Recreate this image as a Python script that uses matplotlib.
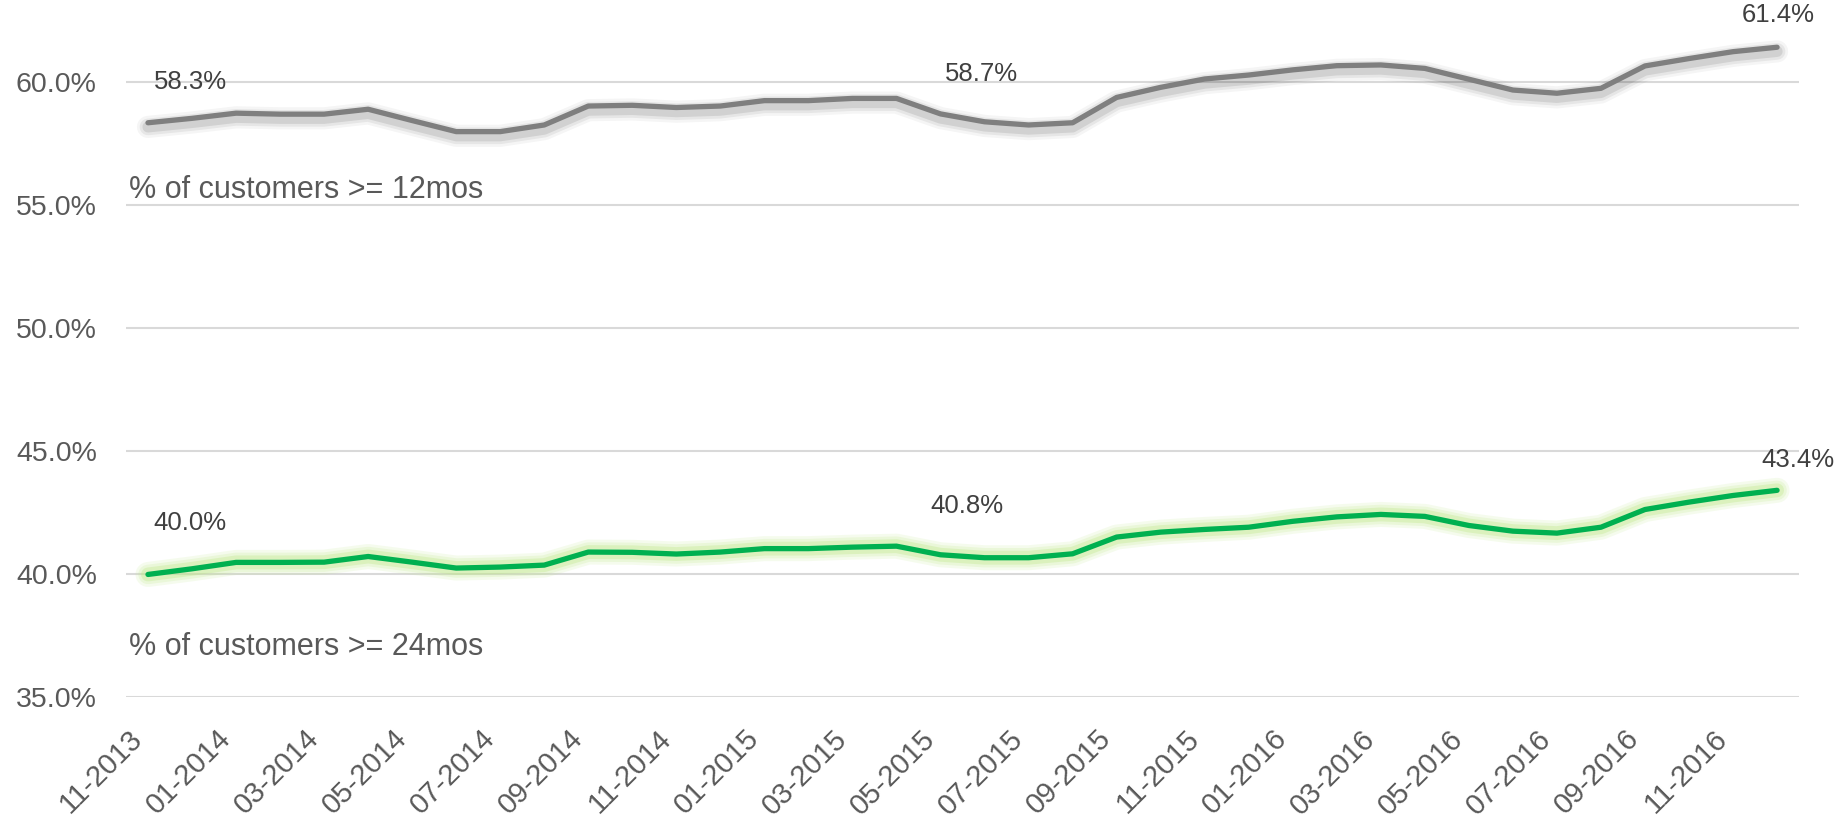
import matplotlib
matplotlib.use("Agg")
import matplotlib.pyplot as plt
import matplotlib.patheffects as pe
import matplotlib.transforms as mtransforms

plt.rcParams['font.family'] = ['Liberation Sans', 'DejaVu Sans']

# Monthly values, 11-2013 .. 12-2016
months = ["11-2013", "12-2013", "01-2014", "02-2014", "03-2014", "04-2014",
          "05-2014", "06-2014", "07-2014", "08-2014", "09-2014", "10-2014",
          "11-2014", "12-2014", "01-2015", "02-2015", "03-2015", "04-2015",
          "05-2015", "06-2015", "07-2015", "08-2015", "09-2015", "10-2015",
          "11-2015", "12-2015", "01-2016", "02-2016", "03-2016", "04-2016",
          "05-2016", "06-2016", "07-2016", "08-2016", "09-2016", "10-2016",
          "11-2016", "12-2016"]

pct_12mos = [58.33, 58.51, 58.72, 58.68, 58.68, 58.88, 58.42, 57.97, 57.97, 58.24,
             59.01, 59.04, 58.95, 59.01, 59.23, 59.23, 59.32, 59.32, 58.69, 58.37,
             58.24, 58.33, 59.36, 59.77, 60.11, 60.27, 60.48, 60.65, 60.68, 60.54,
             60.10, 59.66, 59.53, 59.73, 60.64, 60.94, 61.22, 61.40]

pct_24mos = [39.97, 40.20, 40.46, 40.46, 40.47, 40.70, 40.47, 40.23, 40.27, 40.35,
             40.88, 40.87, 40.80, 40.88, 41.02, 41.02, 41.08, 41.12, 40.77, 40.65,
             40.65, 40.81, 41.49, 41.69, 41.80, 41.89, 42.13, 42.31, 42.41, 42.33,
             41.96, 41.73, 41.65, 41.89, 42.61, 42.91, 43.18, 43.39]

x = list(range(len(months)))

fig = plt.figure(figsize=(18.39, 8.22), dpi=100)
ax = fig.add_axes([0.0685, 0.1524, 0.9098, 0.8476])

# grey line with a soft drop shadow
shadow = [pe.SimpleLineShadow(offset=(0, -3), shadow_color="black", alpha=a, linewidth=w)
          for w, a in [(16, 0.04), (12, 0.06), (8, 0.09)]]
ax.plot(x, pct_12mos, color="#7f7f7f", linewidth=3.8, solid_capstyle="round",
        path_effects=shadow + [pe.Normal()], zorder=3)

# green line with a light green glow
glow = [pe.Stroke(linewidth=w, foreground="#bfe88a", alpha=a)
        for w, a in [(18, 0.15), (14, 0.2), (10, 0.35)]]
ax.plot(x, pct_24mos, color="#00b050", linewidth=3.8, solid_capstyle="round",
        path_effects=glow + [pe.Normal()], zorder=3)

# data labels
lab_kw = dict(textcoords="offset points", fontsize=18.5, color="#404040", va="center")
for i, dx, dy, ha in [(0, 4, 29, "left"), (18, 3, 29, "left"), (37, 1, 23, "center")]:
    ax.annotate(f"{pct_12mos[i]:.1f}%", (x[i], pct_12mos[i]), xytext=(dx, dy), ha=ha, **lab_kw)
for i, dx, dy, ha in [(0, 4, 37, "left"), (18, -7, 35, "left"), (37, 15, 22, "center")]:
    ax.annotate(f"{pct_24mos[i]:.1f}%", (x[i], pct_24mos[i]), xytext=(dx, dy), ha=ha, **lab_kw)

# series names
ax.text(-0.43, 55.27, "% of customers >= 12mos", fontsize=22, color="#595959", va="baseline")
ax.text(-0.43, 36.68, "% of customers >= 24mos", fontsize=22, color="#595959", va="baseline")

ax.set_xlim(-0.5, len(months) - 0.5)
ax.set_ylim(35, 63.32)
ax.set_yticks([35, 40, 45, 50, 55, 60])
ax.set_yticklabels([f"{v:.1f}%" for v in [35, 40, 45, 50, 55, 60]])
ax.set_xticks(x[::2])
ax.set_xticklabels(months[::2], rotation=45, ha="right", rotation_mode="default")

# nudge the slanted month labels a little to the right
shift = mtransforms.ScaledTranslation(0.09, 0.02, fig.dpi_scale_trans)
for lbl in ax.get_xticklabels():
    lbl.set_transform(lbl.get_transform() + shift)

ax.grid(axis="y", color="#d9d9d9", linewidth=1.5)
ax.set_axisbelow(True)
for s in ax.spines.values():
    s.set_visible(False)
ax.tick_params(axis="y", length=0, pad=21, labelsize=20.5, labelcolor="#595959")
ax.tick_params(axis="x", length=0, pad=20, labelsize=21, labelcolor="#595959")

fig.savefig("out.png", dpi=100)
